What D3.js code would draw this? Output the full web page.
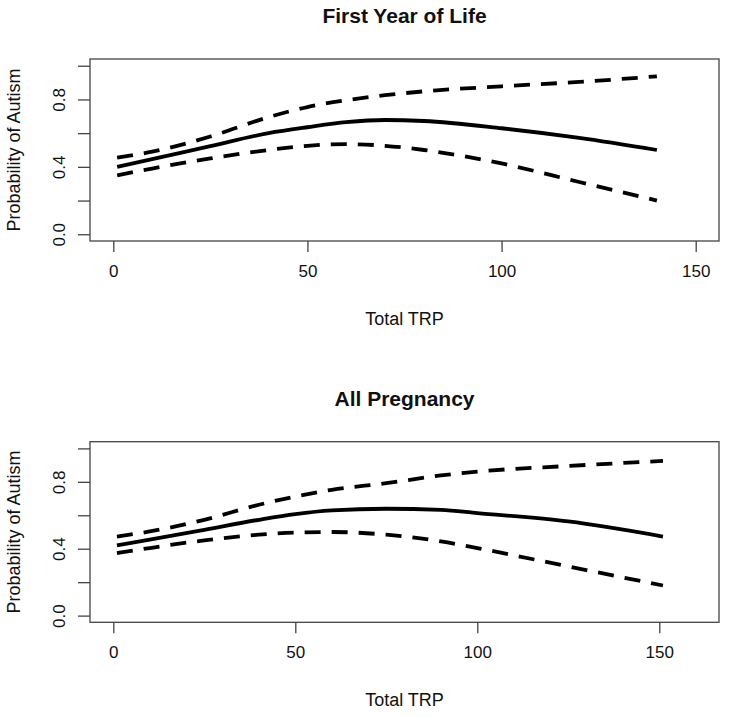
<!DOCTYPE html>
<html>
<head>
<meta charset="utf-8">
<script src="https://cdn.jsdelivr.net/npm/d3@7"></script>
<style>
  html, body { margin: 0; padding: 0; background: #fff; }
  svg { display: block; font-family: "Liberation Sans", Arial, Helvetica, sans-serif; }
</style>
</head>
<body>
<svg id="chart" width="729" height="717"></svg>
<script>
// ---- Data ----
const titles = ["First Year of Life", "All Pregnancy"];
const xLabel = "Total TRP";
const yLabel = "Probability of Autism";
const xTicks = [0, 50, 100, 150];
const yTicks = [0, 0.2, 0.4, 0.6, 0.8, 1.0];
const yTickLabels = ["0.0", "", "0.4", "", "0.8", ""];

// Panel 1: First Year of Life
const x1 = [1, 10, 25, 40, 50, 60, 70, 80, 100, 120, 140];
const fit1 = [0.40, 0.446, 0.523, 0.600, 0.635, 0.665, 0.678, 0.672, 0.629, 0.572, 0.50];
const upper1 = [0.454, 0.49, 0.58, 0.695, 0.755, 0.795, 0.825, 0.848, 0.878, 0.904, 0.937];
const lower1 = [0.35, 0.39, 0.45, 0.50, 0.525, 0.535, 0.525, 0.50, 0.42, 0.31, 0.20];

// Panel 2: All Pregnancy
const x2 = [1, 10, 25, 40, 50, 60, 75, 90, 100, 125, 151];
const fit2 = [0.42, 0.454, 0.513, 0.573, 0.607, 0.629, 0.639, 0.632, 0.613, 0.563, 0.473];
const upper2 = [0.473, 0.503, 0.573, 0.663, 0.712, 0.752, 0.792, 0.838, 0.861, 0.895, 0.925];
const lower2 = [0.374, 0.404, 0.45, 0.484, 0.497, 0.50, 0.484, 0.444, 0.404, 0.294, 0.18];

const xDomains = [[0, 150], [0, 160]];

const panels = [
  { title: titles[0], x: x1, fit: fit1, upper: upper1, lower: lower1, xd: xDomains[0], top: 59, bottom: 241 },
  { title: titles[1], x: x2, fit: fit2, upper: upper2, lower: lower2, xd: xDomains[1], top: 441.7, bottom: 622.3 }
];

const svg = d3.select("#chart");
const left = 90, right = 719;

function ext(d) { const r = d[1] - d[0]; return [d[0] - 0.04 * r, d[1] + 0.04 * r]; }

panels.forEach(p => {
  const x = d3.scaleLinear().domain(ext(p.xd)).range([left, right]);
  const y = d3.scaleLinear().domain(ext([0, 1])).range([p.bottom, p.top]);
  const g = svg.append("g");

  // box
  g.append("rect")
    .attr("x", left).attr("y", p.top)
    .attr("width", right - left).attr("height", p.bottom - p.top)
    .attr("fill", "none").attr("stroke", "#444").attr("stroke-width", 1.3);

  // x axis
  const xa = g.append("g").attr("transform", `translate(0,${p.bottom})`)
    .call(d3.axisBottom(x).tickValues(xTicks).tickSize(11).tickPadding(13).tickFormat(d3.format("d")));
  xa.select(".domain").remove();
  xa.selectAll("line").attr("stroke", "#444").attr("stroke-width", 1.3);
  xa.selectAll("text").attr("font-size", 17).attr("fill", "#111");

  // y axis
  const ya = g.append("g").attr("transform", `translate(${left},0)`)
    .call(d3.axisLeft(y).tickValues(yTicks).tickSize(12).tickFormat((d, i) => yTickLabels[i]));
  ya.select(".domain").remove();
  ya.selectAll("line").attr("stroke", "#444").attr("stroke-width", 1.3);
  ya.selectAll("text")
    .attr("font-size", 17).attr("fill", "#111")
    .attr("x", 0).attr("y", 0).attr("dy", null)
    .attr("text-anchor", "middle")
    .attr("transform", `translate(${65 - left},0) rotate(-90)`);

  // title
  g.append("text")
    .attr("x", (left + right) / 2).attr("y", p.top - 36)
    .attr("text-anchor", "middle").attr("font-size", 21).attr("font-weight", "bold").attr("fill", "#111")
    .text(p.title);

  // x label
  g.append("text")
    .attr("x", (left + right) / 2).attr("y", p.bottom + 84)
    .attr("text-anchor", "middle").attr("font-size", 18).attr("fill", "#111")
    .text(xLabel);

  // y label
  g.append("text")
    .attr("transform", `translate(20,${(p.top + p.bottom) / 2}) rotate(-90)`)
    .attr("text-anchor", "middle").attr("font-size", 18).attr("fill", "#111")
    .text(yLabel);

  const line = d3.line().x(d => x(d[0])).y(d => y(d[1])).curve(d3.curveMonotoneX);
  const series = [
    { v: p.upper, dash: "16,11" },
    { v: p.lower, dash: "16,11" },
    { v: p.fit, dash: null }
  ];
  series.forEach(s => {
    g.append("path")
      .datum(p.x.map((xv, i) => [xv, s.v[i]]))
      .attr("d", line)
      .attr("fill", "none").attr("stroke", "#000")
      .attr("stroke-width", 3.8)
      .attr("stroke-dasharray", s.dash)
      .attr("stroke-linecap", "butt");
  });
});
</script>
</body>
</html>
